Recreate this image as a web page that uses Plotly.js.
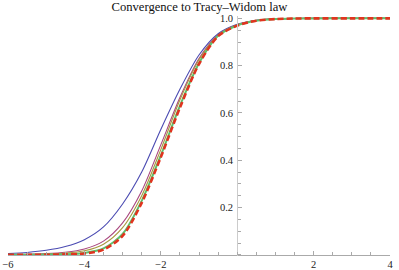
<!DOCTYPE html>
<html><head><meta charset="utf-8">
<script src="https://cdn.plot.ly/plotly-3.0.1.min.js"></script>
<style>body{margin:0;background:#fff}#c{width:399px;height:270px}</style>
</head><body><div id="c"></div>
<script>
const xs = [-6,-5.5,-5,-4.5,-4,-3.5,-3,-2.5,-2,-1.5,-1,-0.5,0,0.5,1,1.5,2,3,4];
const blue   = [0.005,0.010,0.019,0.035,0.064,0.118,0.215,0.350,0.530,0.700,0.845,0.935,0.975,0.992,0.998,0.9995,1,1,1];
const purple = [0.001,0.002,0.005,0.011,0.025,0.058,0.135,0.270,0.465,0.665,0.830,0.930,0.973,0.991,0.998,0.9994,1,1,1];
const olive  = [0.0005,0.001,0.003,0.007,0.017,0.045,0.115,0.250,0.445,0.655,0.825,0.928,0.972,0.991,0.998,0.9994,1,1,1];
const green  = [0.0001,0.0003,0.0008,0.0025,0.008,0.027,0.088,0.228,0.420,0.630,0.810,0.926,0.970,0.990,0.997,0.9993,0.9999,1,1];
const tw2    = [0.0000,0.0001,0.0004,0.0017,0.0055,0.022,0.080,0.220,0.413,0.622,0.807,0.925,0.9694,0.990,0.997,0.9993,0.9999,1,1];
const xTicks = [-6,-4,-2,2,4];
const yTicks = [0.2,0.4,0.6,0.8,1.0];
const yText  = ["0.2","0.4","0.6","0.8","1.0"];
const titleText = "Convergence to Tracy\u2013Widom law";

const mk = (y, color, width, dash) => ({x: xs, y: y, type:'scatter', mode:'lines',
  line:{color:color, width:width, dash:dash||'solid', shape:'spline', smoothing:0.8}, hoverinfo:'skip'});
const data = [
  mk(blue,'#4b4bb2',1.1),
  mk(purple,'#a9477f',1.1),
  mk(olive,'#a8983f',1.1),
  mk(green,'#5cc26e',2),
  mk(tw2,'#e0341f',2.6,'6px,3px')
];
const fam = '"Liberation Serif", "Times New Roman", serif';
const font = {family:fam, size:10.5, color:'#222'};
const layout = {
  width:399, height:270, showlegend:false,
  paper_bgcolor:'#fff', plot_bgcolor:'#fff',
  margin:{l:8,r:9,t:16,b:14,pad:0},
  title:{text:titleText, font:{family:fam,size:12.6,color:'#111'}, x:0.5, xanchor:'center', y:1-6.8/270, yanchor:'middle', yref:'container'},
  xaxis:{range:[-6,4], showgrid:false, zeroline:false, showline:true, linecolor:'#aaa', linewidth:1,
    tickvals:xTicks, ticks:'inside', ticklen:3.5, tickcolor:'#aaa', tickfont:font,
    minor:{dtick:0.5, tick0:0, ticks:'inside', ticklen:3, tickcolor:'#aaa'},
    anchor:'free', position:0.005/1.015, fixedrange:true},
  yaxis:{range:[-0.005,1.01], showgrid:false, zeroline:false, showline:true, linecolor:'#ccc', linewidth:1,
    tickvals:yTicks, ticktext:yText, ticks:'inside', ticklen:3.5, tickcolor:'#aaa', tickfont:font,
    minor:{dtick:0.05, tick0:0, ticks:'inside', ticklen:2.5, tickcolor:'#aaa'},
    anchor:'free', position:0.6, ticklabelstandoff:2, fixedrange:true}
};
Plotly.newPlot('c', data, layout, {staticPlot:true});
</script></body></html>
